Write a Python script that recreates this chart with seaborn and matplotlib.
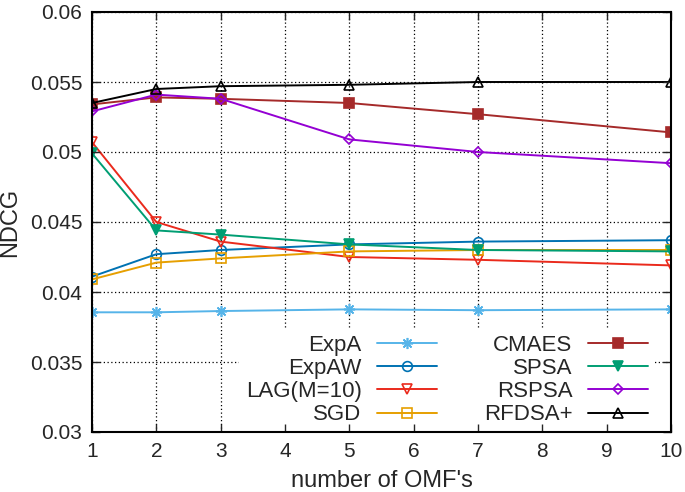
import numpy as np
import pandas as pd
import matplotlib
matplotlib.use("Agg")
import matplotlib.pyplot as plt
import seaborn as sns
from matplotlib.ticker import FuncFormatter, MultipleLocator

sns.set_style("white")
plt.rcParams["font.family"] = ["Liberation Sans", "DejaVu Sans"]

# data
omfs = [1, 2, 3, 5, 7, 10]
exp_a = [0.03855, 0.03855, 0.03864, 0.03876, 0.0387, 0.03876]
exp_aw = [0.0411, 0.0427, 0.0430, 0.0434, 0.0436, 0.0437]
lag = [0.0507, 0.0450, 0.0436, 0.0425, 0.0423, 0.0419]
sgd = [0.0409, 0.0421, 0.0424, 0.0429, 0.0430, 0.0430]
cmaes = [0.0534, 0.0539, 0.0538, 0.0535, 0.0527, 0.0514]
spsa = [0.0499, 0.0444, 0.0441, 0.0434, 0.0430, 0.0429]
rspsa = [0.0529, 0.0541, 0.0538, 0.0509, 0.0500, 0.0492]
rfdsa = [0.0535, 0.0545, 0.0547, 0.0548, 0.0550, 0.0550]

series = {
    "ExpA": exp_a, "ExpAW": exp_aw, "LAG(M=10)": lag, "SGD": sgd,
    "CMAES": cmaes, "SPSA": spsa, "RSPSA": rspsa, "RFDSA+": rfdsa,
}
df = pd.DataFrame({"x": omfs, **series})

# (color, marker, filled)
styles = {
    "ExpA": ("#56b4e9", (8, 2, 0), True),
    "ExpAW": ("#0072b2", "o", False),
    "LAG(M=10)": ("#ea2a1c", "v", False),
    "SGD": ("#e69f00", "s", False),
    "CMAES": ("#a52a2a", "s", True),
    "SPSA": ("#009e73", "v", True),
    "RSPSA": ("#9400d3", "D", False),
    "RFDSA+": ("#000000", "^", False),
}

fig = plt.figure(figsize=(6.85, 4.92), dpi=100)
rect = [92 / 685, 60 / 492, 579 / 685, 420 / 492]
ax = fig.add_axes(rect)
ax.set_axisbelow(True)

for name in series:
    c, m, filled = styles[name]
    ms = 5.5 if m == "D" else (8 if m == (8, 2, 0) else 7)
    sns.lineplot(data=df, x="x", y=name, ax=ax, color=c, marker=m,
                 markersize=ms, markeredgewidth=1.2, markeredgecolor=c,
                 markerfacecolor=c if filled else "none",
                 linewidth=1.4, label=name)

ax.set_xlim(1, 10)
ax.set_ylim(0.03, 0.06)
ax.xaxis.set_major_locator(MultipleLocator(1))
ax.yaxis.set_major_locator(MultipleLocator(0.005))
ax.yaxis.set_major_formatter(FuncFormatter(lambda v, p: "%g" % round(v, 4)))
ax.grid(True, color="black", linestyle=(0, (1, 2)), linewidth=0.9)
ax.tick_params(length=0, labelsize=15, pad=7)
ax.set_xlabel("number of OMF's", fontsize=17, labelpad=7)
ax.set_ylabel("NDCG", fontsize=17, labelpad=6)
for s in ax.spines.values():
    s.set_visible(False)

leg = ax.legend(ncol=2, markerfirst=False, loc="lower right",
                bbox_to_anchor=(0.972, 0.0), borderaxespad=0, borderpad=0.3,
                fontsize=16, handlelength=2.7, handletextpad=0.7,
                columnspacing=2.1, labelspacing=0.1, frameon=True,
                fancybox=False, facecolor="white", edgecolor="none",
                framealpha=1)

# overlay axes for inward ticks and frame drawn above the legend box
ax2 = fig.add_axes(rect, sharex=ax, sharey=ax)
ax2.patch.set_visible(False)
ax2.grid(False)
ax2.tick_params(direction="in", length=6, width=1, top=True, right=True,
                bottom=True, left=True, labelbottom=False, labelleft=False)
for s in ax2.spines.values():
    s.set_visible(True)
    s.set_linewidth(1.5)
    s.set_color("black")

fig.savefig("out.png", dpi=100)
